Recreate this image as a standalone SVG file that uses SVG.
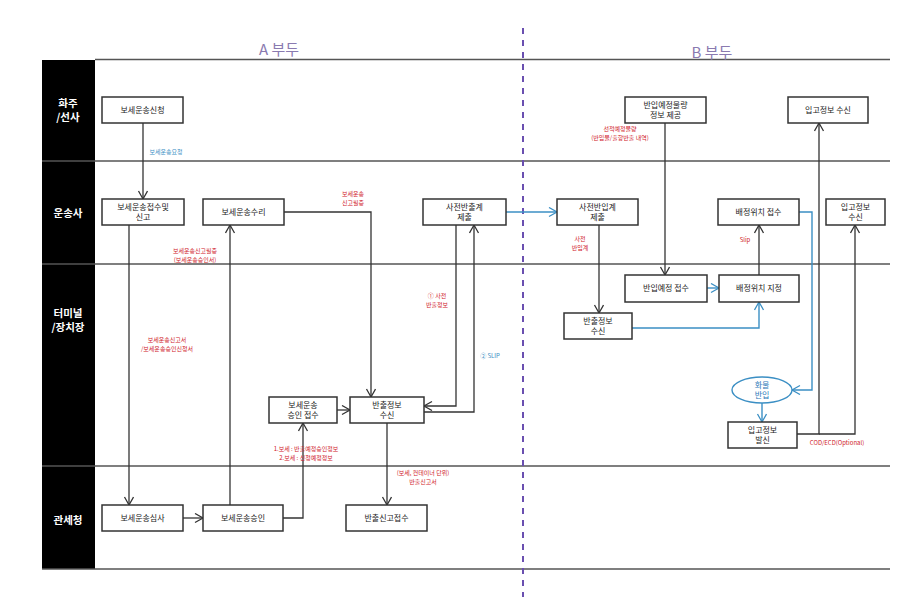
<svg xmlns="http://www.w3.org/2000/svg" width="923" height="601" viewBox="0 0 923 601">
<defs>
<marker id="ah" markerUnits="userSpaceOnUse" markerWidth="12" markerHeight="12" refX="9" refY="5" orient="auto"><path d="M1,0.5 L9,5 L1,9.5" fill="none" stroke="#333" stroke-width="1.3"/></marker>
<marker id="ahb" markerUnits="userSpaceOnUse" markerWidth="12" markerHeight="12" refX="9" refY="5" orient="auto"><path d="M1,0.5 L9,5 L1,9.5" fill="none" stroke="#3b8fc4" stroke-width="1.3"/></marker>
</defs>
<style>
text{font-family:"Noto Sans CJK KR","Noto Sans",sans-serif}
.box{fill:#fff;stroke:#333;stroke-width:1.5}
.nt{font-size:8px;fill:#222;text-anchor:middle}
.lane{font-size:10.5px;fill:#fff;font-weight:bold;text-anchor:middle}
.c{fill:none;stroke:#333;stroke-width:1.3}
.cb{fill:none;stroke:#3b8fc4;stroke-width:1.4}
.red{font-size:6px;fill:#d0202a;text-anchor:middle}
.blue{font-size:6px;fill:#3b8fc4;text-anchor:middle}
.rl{stroke:#555;stroke-width:1.5}
</style>
<rect width="923" height="601" fill="#fff"/>
<g id="lanes">
<rect x="42" y="60" width="53" height="509" fill="#000"/>
<line class="rl" x1="95" y1="59.5" x2="890" y2="59.5"/>
<line class="rl" x1="42" y1="161" x2="890" y2="161"/>
<line class="rl" x1="42" y1="264" x2="890" y2="264"/>
<line class="rl" x1="42" y1="466" x2="890" y2="466"/>
<line class="rl" x1="42" y1="569" x2="890" y2="569"/>
<text class="lane" x="68" y="107">화주</text>
<text class="lane" x="68" y="121">/선사</text>
<text class="lane" x="68" y="217">운송사</text>
<text class="lane" x="68" y="317">터미널</text>
<text class="lane" x="68" y="331">/장치장</text>
<text class="lane" x="68" y="524">관세청</text>
<text x="279" y="55" font-size="15" fill="#8a7ab0" text-anchor="middle">A 부두</text>
<text x="712" y="58" font-size="15" fill="#8a7ab0" text-anchor="middle">B 부두</text>
<line x1="523" y1="28" x2="523" y2="597" stroke="#6a4fb0" stroke-width="2" stroke-dasharray="6,6"/>
</g>
<g id="connectors">
<path class="c" d="M143,123 V199" marker-end="url(#ah)"/>
<path class="c" d="M129,225 V505" marker-end="url(#ah)"/>
<path class="c" d="M183,518 H203" marker-end="url(#ah)"/>
<path class="c" d="M230,505 V225" marker-end="url(#ah)"/>
<path class="c" d="M284,212 H371 V397" marker-end="url(#ah)"/>
<path class="c" d="M283,518 H303 V423" marker-end="url(#ah)"/>
<path class="c" d="M337,410 H350" marker-end="url(#ah)"/>
<path class="c" d="M456,225 V406 H424" marker-end="url(#ah)"/>
<path class="c" d="M424,412 H474 V225" marker-end="url(#ah)"/>
<path class="c" d="M387,422 V505" marker-end="url(#ah)"/>
<path class="cb" d="M506,212 H557" marker-end="url(#ahb)"/>
<path class="c" d="M599,225 V313" marker-end="url(#ah)"/>
<path class="c" d="M665,123 V275" marker-end="url(#ah)"/>
<path class="cb" d="M707,288 H719" marker-end="url(#ahb)"/>
<path class="cb" d="M632,328 H759 V302" marker-end="url(#ahb)"/>
<path class="c" d="M759,275 V225" marker-end="url(#ah)"/>
<path class="cb" d="M799,212 H812 V390 H792" marker-end="url(#ahb)"/>
<path class="cb" d="M762,403 V422" marker-end="url(#ahb)"/>
<path class="c" d="M797,434 H819 V123" marker-end="url(#ah)"/>
<path class="c" d="M819,434 H855 V225" marker-end="url(#ah)"/>
<text class="blue" x="166" y="154">보세운송요청</text>
<text class="red" x="353" y="196">보세운송</text>
<text class="red" x="353" y="205">신고필증</text>
<text class="red" x="195" y="253">보세운송신고필증</text>
<text class="red" x="195" y="262">(보세운송승인서)</text>
<text class="red" x="167" y="342">보세운송신고서</text>
<text class="red" x="167" y="351">/보세운송승인신청서</text>
<text class="red" x="437" y="298">① 사전</text>
<text class="red" x="437" y="307">반출정보</text>
<text class="blue" x="490" y="358">② SLIP</text>
<text class="red" x="306" y="451">1.보세 : 반출예정승인정보</text>
<text class="red" x="306" y="460">2.보세 : 신청예정정보</text>
<text class="red" x="423" y="475">(보세, 컨테이너 단위)</text>
<text class="red" x="423" y="484">반출신고서</text>
<text class="red" x="580" y="241">사전</text>
<text class="red" x="580" y="250">반입계</text>
<text class="red" x="620" y="131">선적예정물량</text>
<text class="red" x="620" y="140">(반입물/출항반출 내역)</text>
<text class="red" x="745" y="242">Slip</text>
<text class="red" x="837" y="445">COD/ECD(Optional)</text>
</g>
<g id="n1"><rect class="box" x="102" y="97" width="81" height="26"/><text class="nt" x="142.5" y="113">보세운송신청</text></g>
<g id="n2"><rect class="box" x="102" y="199" width="82" height="26"/><text class="nt" x="143" y="210">보세운송접수및</text><text class="nt" x="143" y="220">신고</text></g>
<g id="n3"><rect class="box" x="203" y="199" width="81" height="26"/><text class="nt" x="243.5" y="215">보세운송수리</text></g>
<g id="n4"><rect class="box" x="423" y="199" width="83" height="26"/><text class="nt" x="464.5" y="210">사전반출계</text><text class="nt" x="464.5" y="220">제출</text></g>
<g id="n5"><rect class="box" x="557" y="199" width="81" height="26"/><text class="nt" x="597.5" y="210">사전반입계</text><text class="nt" x="597.5" y="220">제출</text></g>
<g id="n6"><rect class="box" x="625" y="97" width="81" height="26"/><text class="nt" x="665.5" y="108">반입예정물량</text><text class="nt" x="665.5" y="118">정보 제공</text></g>
<g id="n7"><rect class="box" x="788" y="97" width="80" height="26"/><text class="nt" x="828" y="113">입고정보 수신</text></g>
<g id="n8"><rect class="box" x="718" y="199" width="81" height="26"/><text class="nt" x="758.5" y="215">배정위치 접수</text></g>
<g id="n9"><rect class="box" x="826" y="199" width="59" height="26"/><text class="nt" x="855.5" y="210">입고정보</text><text class="nt" x="855.5" y="220">수신</text></g>
<g id="n10"><rect class="box" x="625" y="275" width="82" height="27"/><text class="nt" x="666" y="291">반입예정 접수</text></g>
<g id="n11"><rect class="box" x="719" y="275" width="80" height="27"/><text class="nt" x="759" y="291">배정위치 지정</text></g>
<g id="n12"><rect class="box" x="564" y="313" width="68" height="26"/><text class="nt" x="598" y="324">반출정보</text><text class="nt" x="598" y="334">수신</text></g>
<g id="n13"><ellipse cx="762" cy="390" rx="30" ry="13" fill="#fff" stroke="#3b8fc4" stroke-width="1.4"/><text class="nt" x="762" y="388" style="fill:#2a78b8">화물</text><text class="nt" x="762" y="398" style="fill:#2a78b8">반입</text></g>
<g id="n14"><rect class="box" x="728" y="422" width="69" height="26"/><text class="nt" x="762.5" y="433">입고정보</text><text class="nt" x="762.5" y="443">발신</text></g>
<g id="n15"><rect class="box" x="269" y="397" width="68" height="26"/><text class="nt" x="303" y="408">보세운송</text><text class="nt" x="303" y="418">승인 접수</text></g>
<g id="n16"><rect class="box" x="350" y="397" width="74" height="26"/><text class="nt" x="387" y="408">반출정보</text><text class="nt" x="387" y="418">수신</text></g>
<g id="n17"><rect class="box" x="102" y="505" width="81" height="26"/><text class="nt" x="142.5" y="521">보세운송심사</text></g>
<g id="n18"><rect class="box" x="203" y="505" width="80" height="26"/><text class="nt" x="243" y="521">보세운송승인</text></g>
<g id="n19"><rect class="box" x="346" y="505" width="81" height="26"/><text class="nt" x="386.5" y="521">반출신고접수</text></g>
</svg>
